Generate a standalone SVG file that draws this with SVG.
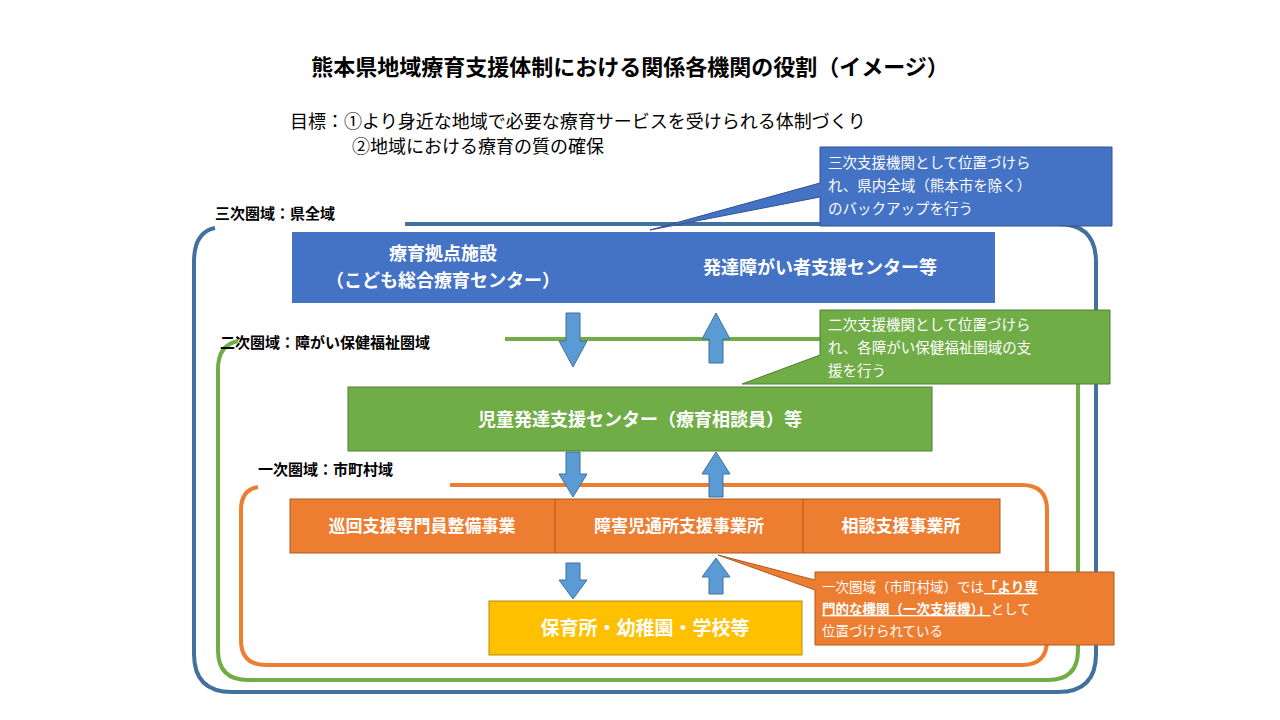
<svg xmlns="http://www.w3.org/2000/svg" width="1280" height="720" viewBox="0 0 1280 720">
<style>
text{font-family:"Noto Sans CJK JP","Noto Sans CJK SC",sans-serif}
.t{font-size:18px;fill:#000}
.lb{font-size:15px;font-weight:bold;fill:#000}
.w{font-size:18px;font-weight:bold;fill:#fff}
.c{font-size:14.5px;fill:#fff}
.fr{fill:none;stroke-width:4}
.ar{fill:#5B9BD5;stroke:#41719C;stroke-width:1}
</style>
<rect width="1280" height="720" fill="#fff"/>
<text x="630" y="75" text-anchor="middle" style="font-size:22px;font-weight:bold">熊本県地域療育支援体制における関係各機関の役割（イメージ）</text>
<text class="t" x="290" y="128">目標：①より身近な地域で必要な療育サービスを受けられる体制づくり</text>
<text class="t" x="352" y="153">②地域における療育の質の確保</text>
<g id="frames">
<path class="fr" stroke="#41719C" d="M405,224 H1058 Q1096,224 1096,262 V654 Q1096,692 1058,692 H232 Q194,692 194,654 V262 Q194,232 215,228"/>
<path class="fr" stroke="#70AD47" d="M505,339 H1048 Q1078,339 1078,369 V650 Q1078,680 1048,680 H248 Q218,680 218,650 V369 Q218,345 238,341"/>
<path class="fr" stroke="#ED7D31" d="M450,485 H1022 Q1047,485 1047,510 V640 Q1047,665 1022,665 H266 Q241,665 241,640 V510 Q241,490 258,487"/>
<text class="lb" x="215" y="219">三次圏域：県全域</text>
<text class="lb" x="220" y="348">二次圏域：障がい保健福祉圏域</text>
<text class="lb" x="258" y="475">一次圏域：市町村域</text>
</g>
<g id="connectors">
<path class="ar" d="M566,313 H580 V341 H587 L573,367 L559,341 H566 Z"/>
<path class="ar" d="M709,363 H723 V339 H730 L716,313 L702,339 H709 Z"/>
<path class="ar" d="M566,452 H580 V474 H587 L573,497 L559,474 H566 Z"/>
<path class="ar" d="M709,497 H723 V474 H730 L716,452 L702,474 H709 Z"/>
<path class="ar" d="M566,563 H580 V580 H587 L573,599 L559,580 H566 Z"/>
<path class="ar" d="M709,594 H723 V577 H730 L716,558 L702,577 H709 Z"/>
</g>
<g id="n-pref">
<rect x="292" y="232" width="703" height="71" fill="#4472C4"/>
<text class="w" x="443" y="260" text-anchor="middle">療育拠点施設</text>
<text class="w" x="443" y="287" text-anchor="middle">（こども総合療育センター）</text>
<text class="w" x="820" y="274" text-anchor="middle">発達障がい者支援センター等</text>
</g>
<g id="n-area">
<rect x="348" y="387" width="584" height="64" fill="#70AD47" stroke="#507E32"/>
<text class="w" x="640" y="426" text-anchor="middle">児童発達支援センター（療育相談員）等</text>
</g>
<g id="n-city">
<rect x="290" y="499" width="710" height="54" fill="#ED7D31" stroke="#AE5A21"/>
<line x1="555" y1="499" x2="555" y2="553" stroke="#AE5A21"/>
<line x1="803" y1="499" x2="803" y2="553" stroke="#AE5A21"/>
<text class="w" x="422" y="532" text-anchor="middle" style="font-size:17px">巡回支援専門員整備事業</text>
<text class="w" x="679" y="532" text-anchor="middle" style="font-size:17px">障害児通所支援事業所</text>
<text class="w" x="901" y="532" text-anchor="middle" style="font-size:17px">相談支援事業所</text>
</g>
<g id="n-school">
<rect x="489" y="601" width="313" height="54" fill="#FFC000" stroke="#BC8C00"/>
<text class="w" x="645" y="635" text-anchor="middle" style="font-size:19px">保育所・幼稚園・学校等</text>
</g>
<g id="callout-3">
<path d="M820,147 H1112 V226 H820 V197 L650,230 L820,183 Z" fill="#4472C4" stroke="#2F528F"/>
<text class="c" x="828" y="168">三次支援機関として位置づけら</text>
<text class="c" x="828" y="191">れ、県内全域（熊本市を除く）</text>
<text class="c" x="828" y="214">のバックアップを行う</text>
</g>
<g id="callout-2">
<path d="M820,310 H1110 V384 H820 L742,384 L820,355 Z" fill="#70AD47" stroke="#507E32"/>
<text class="c" x="828" y="330">二次支援機関として位置づけら</text>
<text class="c" x="828" y="353">れ、各障がい保健福祉圏域の支</text>
<text class="c" x="828" y="376">援を行う</text>
</g>
<g id="callout-1">
<path d="M815,572 H1114 V645 H815 V590 L718,555 L815,580 Z" fill="#ED7D31" stroke="#AE5A21"/>
<text class="c" x="822" y="592" style="font-size:13.5px">一次圏域（市町村域）では<tspan font-weight="bold" text-decoration="underline">「より専</tspan></text>
<text class="c" x="822" y="614" style="font-size:13.5px"><tspan font-weight="bold" text-decoration="underline">門的な機関（一次支援機）」</tspan>として</text>
<text class="c" x="822" y="636" style="font-size:13.5px">位置づけられている</text>
</g>
</svg>
